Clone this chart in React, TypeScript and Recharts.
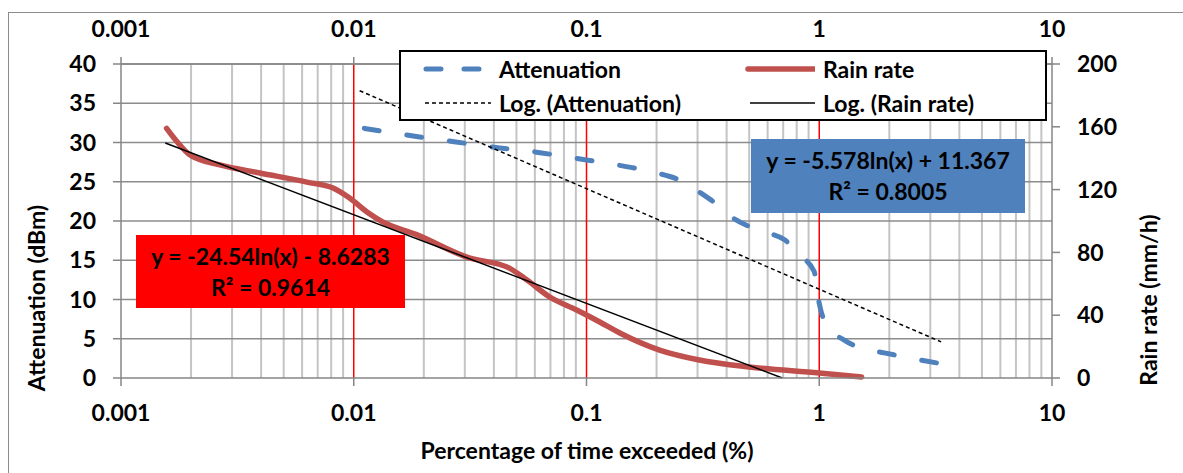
import { ComposedChart, Line, XAxis, YAxis, ReferenceLine } from 'recharts';

const FONT = 'Lato, "Liberation Sans", sans-serif';

// attenuation (dBm) vs percentage of time exceeded (%)
const attPct = [0.0111, 0.0192, 0.027, 0.04, 0.06, 0.089, 0.132, 0.195, 0.26, 0.305, 0.36, 0.42, 0.5, 0.6, 0.71, 0.82, 0.95, 1.0, 1.1, 1.27, 1.5, 1.9, 2.5, 3.37];
const attDb = [31.8, 30.7, 30.1, 29.4, 28.8, 28.0, 27.2, 26.2, 25.0, 23.7, 22.2, 20.5, 19.3, 18.5, 17.6, 15.7, 13.6, 9.5, 6.3, 4.9, 3.8, 3.2, 2.5, 1.8];

// rain rate (mm/h) vs percentage of time exceeded (%)
const rainPct = [0.00157, 0.0018, 0.00198, 0.00266, 0.00395, 0.00629, 0.00815, 0.0096, 0.0114, 0.0133, 0.0185, 0.0306, 0.0466, 0.0555, 0.0695, 0.0907, 0.114, 0.139, 0.206, 0.305, 0.5, 1.0, 1.52];
const rainRate = [159, 148, 142, 135.7, 130.6, 124.8, 121, 114.6, 105.7, 99.4, 91.5, 77, 70, 62.4, 51.6, 43.3, 35.7, 28.7, 17.8, 11.5, 7.0, 3.2, 0.6];

// log trendlines (end points)
const attTrendPct = [0.0106, 3.34];
const attTrendDb = [36.6, 4.6];
const rainTrendPct = [0.00155, 0.694];
const rainTrendRate = [149.7, 0];

const xTicks = [0.001, 0.01, 0.1, 1, 10];
const decades = [0.001, 0.01, 0.1, 1];
const multipliers = [2, 3, 4, 5, 6, 7, 8, 9];
const minorX = decades.flatMap((d) => multipliers.map((m) => +(d * m).toPrecision(3)));
const redX = [0.01, 0.1, 1];
const leftTicks = [0, 5, 10, 15, 20, 25, 30, 35, 40];
const rightTicks = [0, 40, 80, 120, 160, 200];

const attData = attPct.map((x, i) => ({ x, y: attDb[i] }));
const rainData = rainPct.map((x, i) => ({ x, y: rainRate[i] }));
const attTrend = attTrendPct.map((x, i) => ({ x, y: attTrendDb[i] }));
const rainTrend = rainTrendPct.map((x, i) => ({ x, y: rainTrendRate[i] }));

const tickStyle = { fill: '#000', fontSize: 23, fontWeight: 700, fontFamily: FONT };
const axisGrey = '#868686';

const txt: React.CSSProperties = { fontFamily: FONT, fontWeight: 700, fontSize: 23, color: '#000', position: 'absolute', whiteSpace: 'nowrap' };

function LegendRow({ top, left, sample, label }: { top: number; left: number; sample: React.ReactNode; label: string }) {
  return (
    <div style={{ position: 'absolute', top, left, display: 'flex', alignItems: 'center', height: 30 }}>
      <svg width={70} height={12} style={{ marginRight: 8 }}>{sample}</svg>
      <span style={{ fontFamily: FONT, fontWeight: 700, fontSize: 23 }}>{label}</span>
    </div>
  );
}

export default function App() {
  return (
    <div style={{ position: 'absolute', left: 0, top: 0, width: 1183, height: 473, overflow: 'hidden', background: '#fff' }}>
      <div style={{ position: 'absolute', left: 8, top: 12, width: 1250, height: 520, border: '1px solid #8c8c8c' }} />
      <div style={{ position: 'absolute', left: 0, top: 0 }}>
        <ComposedChart width={1183} height={473} margin={{ top: 34, right: 51, bottom: 55, left: 61 }}>
          <XAxis xAxisId="bottom" dataKey="x" type="number" scale="log" domain={[0.001, 10]} allowDataOverflow ticks={xTicks}
            height={40} tickSize={8} tickMargin={19} tick={tickStyle} stroke={axisGrey} strokeWidth={1.5} />
          <XAxis xAxisId="top" orientation="top" dataKey="x" type="number" scale="log" domain={[0.001, 10]} allowDataOverflow ticks={xTicks}
            height={30} tickSize={7} tickMargin={20} tick={tickStyle} stroke={axisGrey} strokeWidth={1.5} />
          <YAxis yAxisId="left" type="number" domain={[0, 40]} ticks={leftTicks} width={60} tickSize={8} tickMargin={17}
            tick={tickStyle} stroke={axisGrey} strokeWidth={1.5} />
          <YAxis yAxisId="right" orientation="right" type="number" domain={[0, 200]} ticks={rightTicks} width={80} tickSize={8} tickMargin={17}
            tick={tickStyle} stroke={axisGrey} strokeWidth={1.5} />

          {minorX.map((v) => (
            <ReferenceLine key={'m' + v} x={v} xAxisId="bottom" yAxisId="left" stroke="#c4c4c4" strokeWidth={2} />
          ))}
          {leftTicks.slice(1).map((v) => (
            <ReferenceLine key={'h' + v} y={v} xAxisId="bottom" yAxisId="left" stroke="#8c8c8c" strokeWidth={1.5} />
          ))}
          {redX.map((v) => (
            <ReferenceLine key={'r' + v} x={v} xAxisId="bottom" yAxisId="left" stroke="#ff0000" strokeWidth={1.5} />
          ))}

          <Line data={attData} dataKey="y" xAxisId="bottom" yAxisId="left" type="monotone" stroke="#4f81bd" strokeWidth={5}
            strokeDasharray="15 28" strokeLinecap="round" dot={false} activeDot={false} isAnimationActive={false} />
          <Line data={rainData} dataKey="y" xAxisId="bottom" yAxisId="right" type="monotone" stroke="#c0504d" strokeWidth={5.5}
            strokeLinecap="round" dot={false} activeDot={false} isAnimationActive={false} />
          <Line data={attTrend} dataKey="y" xAxisId="bottom" yAxisId="left" type="linear" stroke="#000" strokeWidth={1.5}
            strokeDasharray="4 3" dot={false} activeDot={false} isAnimationActive={false} />
          <Line data={rainTrend} dataKey="y" xAxisId="bottom" yAxisId="right" type="linear" stroke="#000" strokeWidth={1.5}
            dot={false} activeDot={false} isAnimationActive={false} />
        </ComposedChart>
      </div>

      {/* legend */}
      <div style={{ position: 'absolute', left: 399, top: 50, width: 644, height: 67, border: '2px solid #000', background: '#fff' }}>
        <LegendRow top={2} left={20} label="Attenuation"
          sample={<line x1={5} y1={6} x2={65} y2={6} stroke="#4f81bd" strokeWidth={5} strokeDasharray="15 23" strokeLinecap="round" />} />
        <LegendRow top={2} left={344} label="Rain rate"
          sample={<line x1={3} y1={6} x2={73} y2={6} stroke="#c0504d" strokeWidth={5.5} strokeLinecap="round" />} />
        <LegendRow top={36} left={20} label="Log. (Attenuation)"
          sample={<line x1={4} y1={6} x2={70} y2={6} stroke="#000" strokeWidth={1.5} strokeDasharray="4 3" />} />
        <LegendRow top={36} left={344} label="Log. (Rain rate)"
          sample={<line x1={5} y1={6} x2={70} y2={6} stroke="#000" strokeWidth={1.5} />} />
      </div>

      {/* trendline equations */}
      <div style={{ position: 'absolute', left: 136, top: 235, width: 269, height: 73, background: '#ff0000', display: 'flex', flexDirection: 'column', alignItems: 'center', justifyContent: 'center', lineHeight: '31px', fontFamily: FONT, fontWeight: 700, fontSize: 23 }}>
        <div>y = -24.54ln(x) - 8.6283</div>
        <div>R² = 0.9614</div>
      </div>
      <div style={{ position: 'absolute', left: 751, top: 139, width: 274, height: 74, background: '#4f81bd', display: 'flex', flexDirection: 'column', alignItems: 'center', justifyContent: 'center', lineHeight: '31px', fontFamily: FONT, fontWeight: 700, fontSize: 23 }}>
        <div>y = -5.578ln(x) + 11.367</div>
        <div>R² = 0.8005</div>
      </div>

      {/* axis titles */}
      <div style={{ ...txt, left: 36, top: 298, transform: 'translate(-50%, -50%) rotate(-90deg)' }}>Attenuation (dBm)</div>
      <div style={{ ...txt, left: 1148, top: 300, transform: 'translate(-50%, -50%) rotate(-90deg)' }}>Rain rate (mm/h)</div>
      <div style={{ ...txt, left: 587, top: 450, transform: 'translate(-50%, -50%)' }}>Percentage of time exceeded (%)</div>
    </div>
  );
}
